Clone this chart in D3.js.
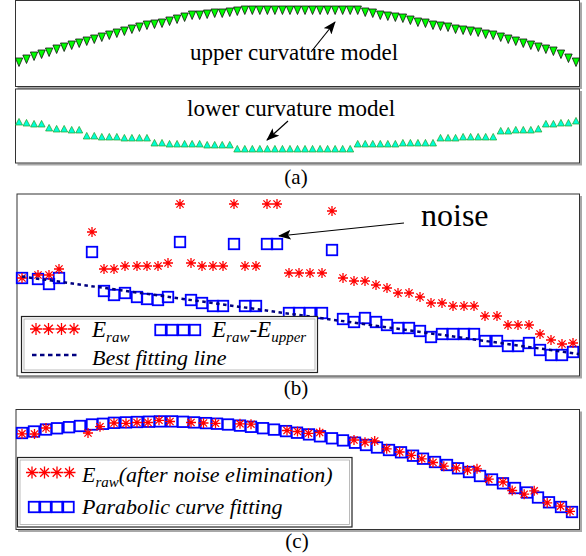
<!DOCTYPE html>
<html>
<head>
<meta charset="utf-8">
<script src="https://cdn.jsdelivr.net/npm/d3@7"></script>
<style>
  body { margin: 0; background: #fff; }
  svg { display: block; }
  text { font-family: "Liberation Serif", "Times New Roman", serif; fill: #000; }
</style>
</head>
<body>
<div id="chart"></div>
<script>
// (a) curvature models, one value per sample column
var upperModel = [25, 28, 31, 33, 35, 38, 40, 42, 44, 46, 48, 50, 52, 54, 56, 58, 60, 62, 63, 64,
                  66, 68, 70, 72, 72, 73, 74, 74, 75, 76,
                  77, 77, 77, 77, 77, 77, 77, 77, 77, 77, 77, 77, 77, 77, 77, 77,
                  75, 74, 72, 71, 70, 69, 67, 65, 64, 62, 61, 60, 58, 57, 56, 55, 53, 52, 50, 48,
                  46, 44, 42, 40, 38, 36, 33, 29, 25];
var lowerModel = [41, 40, 39, 39, 35, 34, 34, 33, 33, 27, 27, 26, 26, 26, 25, 25, 25, 25,
                  20, 20, 19, 19, 19, 19, 19, 18, 18, 18, 18,
                  14, 14, 14, 14, 14, 14, 14, 14, 14, 14, 14, 14, 14, 14, 14, 14,
                  19, 19, 19, 19, 19, 19, 20, 20, 20, 20, 20,
                  25, 25, 25, 26, 26, 26, 26, 26, 32, 32, 33, 33, 33, 34, 39, 39, 40, 40, 42];

// (b) raw values and raw minus upper model
var posB = [6, 22, 33, 43, 76, 88, 98, 109, 121, 131, 142, 152, 164, 175, 186, 197, 207, 218, 229, 240,
            251, 261, 273, 283, 294, 306, 316, 327, 338, 349, 360, 371, 382, 393, 404, 415, 426, 437, 448, 458,
            469, 481, 492, 502, 513, 524, 535, 546, 557];
var rawB = [98, 101, 101, 107, 144, 107, 107, 110, 110, 110, 110, 113, 172, 113, 110, 110, 110, 172, 110, 110,
            172, 172, 103, 103, 103, 103, 165, 98, 95, 95, 91, 88, 83, 83, 79, 73, 73, 70, 70, 70,
            60, 60, 51, 51, 51, 42, 36, 32, 33];
var diffB = [98, 97, 92, 98, 124, 85, 81, 83, 79, 77, 76, 79, 134, 76, 73, 70, 70, 132, 70, 70,
             132, 132, 63, 63, 63, 63, 126, 57, 54, 58, 54, 51, 48, 48, 45, 39, 42, 42, 42, 42,
             35, 35, 30, 30, 33, 26, 21, 21, 24];
var fitLineX = [6, 563];
var fitLineY = [99.5, 22];

// (c) parabolic fit and raw values after noise elimination
var posFit = [6, 18, 30, 41, 53, 64, 76, 87, 98, 110, 121, 133, 144, 156, 167, 178, 190, 201, 212, 224,
              235, 247, 258, 270, 281, 293, 304, 316, 327, 339, 350, 361, 373, 385, 397, 407, 419, 431, 442, 453,
              464, 476, 487, 499, 511, 522, 533, 545, 556];
var fitC = [96, 97.5, 99.5, 100.7, 101.8, 103, 104.5, 105.2, 106.2, 106.6, 107, 107.3, 107.6, 107.6, 107.2, 106.6,
            105.9, 105.3, 104.5, 103.4, 102.2, 100.8, 99.4, 97.9, 96.3, 94.6, 92.7, 90.7, 88.6, 86.3, 84, 81.5,
            79, 76.7, 73.3, 70.3, 67, 64, 60.7, 57, 53, 49.5, 45.7, 41, 36.5, 31.5, 26.7, 22, 17];
var posRawC = [6, 18.5, 30, 72, 84, 98, 110, 121, 132, 143, 154, 175, 187.5, 199.5, 224, 235, 271, 281.5, 292.5, 303.7,
               338, 349, 358.7, 370.7, 383.7, 395.3, 405.8, 417, 427.8, 440.3, 451.5, 461, 472.8, 487, 496.2, 508.2,
               518.2, 531.2, 544.5, 554];
var rawC = [95.2, 95, 101, 96, 102.3, 106, 105.7, 106.5, 106.5, 108.7, 107.5, 106.5, 106, 105.7, 105.2, 104.8,
            98.5, 97.5, 95.7, 96.5, 89, 86.8, 88, 80.2, 77, 73.7, 70.2, 66.5, 62.8, 61, 59, 60.2, 49.8, 47,
            38.5, 34.8, 38.2, 26.2, 22.8, 17.7];

var w = 586, h = 556;
var svg = d3.select("#chart").append("svg").attr("width", w).attr("height", h);

svg.append("defs").append("marker")
    .attr("id", "head")
    .attr("viewBox", "0 0 13 10")
    .attr("refX", 12).attr("refY", 5)
    .attr("markerWidth", 13).attr("markerHeight", 10)
    .attr("markerUnits", "userSpaceOnUse")
    .attr("orient", "auto")
    .append("path").attr("d", "M0,0L13,5L0,10L3,5Z").attr("fill", "#000");

function frame(x0, y0, x1, y1) {
    svg.append("path")
        .attr("d", "M" + (x0 + 2) + "," + (y1 + 1.5) + "H" + (x1 + 1.5) + "V" + (y0 + 2))
        .attr("fill", "none").attr("stroke", "#a8a8a8").attr("stroke-width", 2);
    svg.append("rect")
        .attr("x", x0).attr("y", y0).attr("width", x1 - x0).attr("height", y1 - y0)
        .attr("fill", "#fff").attr("stroke", "#333").attr("stroke-width", 1);
}

function legendBox(x0, y0, x1, y1) {
    svg.append("rect")
        .attr("x", x0).attr("y", y0).attr("width", x1 - x0).attr("height", y1 - y0)
        .attr("fill", "#fff").attr("stroke", "#222").attr("stroke-width", 1.2);
    svg.append("rect")
        .attr("x", x0 + 2.5).attr("y", y0 + 2.5).attr("width", x1 - x0 - 5).attr("height", y1 - y0 - 5)
        .attr("fill", "none").attr("stroke", "#aaa").attr("stroke-width", 0.8);
}

function star(r) {
    var d = r * 0.72;
    return "M" + (-r) + ",0H" + r + "M0," + (-r) + "V" + r +
           "M" + (-d) + "," + (-d) + "L" + d + "," + d + "M" + (-d) + "," + d + "L" + d + "," + (-d);
}

function stars(g, xs, ys, r) {
    g.selectAll(null).data(xs).enter().append("path")
        .attr("transform", function(d, i) { return "translate(" + d + "," + ys[i] + ")"; })
        .attr("d", star(r))
        .attr("fill", "none").attr("stroke", "#ff0000").attr("stroke-width", 1.3);
}

function squares(g, xs, ys, s) {
    g.selectAll(null).data(xs).enter().append("rect")
        .attr("x", function(d) { return d - s / 2; })
        .attr("y", function(d, i) { return ys[i] - s / 2; })
        .attr("width", s).attr("height", s)
        .attr("fill", "none").attr("stroke", "#0000ff").attr("stroke-width", 1.8);
}

function arrow(x1, y1, x2, y2) {
    svg.append("line")
        .attr("x1", x1).attr("y1", y1).attr("x2", x2).attr("y2", y2)
        .attr("stroke", "#000").attr("stroke-width", 1.2)
        .attr("marker-end", "url(#head)");
}

// ---------- (a) ----------
frame(15.5, 0.5, 579.5, 86.5);
frame(15.5, 89, 579.5, 163);

var xA = d3.scaleLinear().domain([0, 74]).range([19, 576]);
var yUp = d3.scaleLinear().domain([0, 87]).range([87, 0]);
var yLow = d3.scaleLinear().domain([0, 74]).range([163, 89]);

svg.append("g").selectAll("path").data(upperModel).enter().append("path")
    .attr("transform", function(d, i) { return "translate(" + xA(i) + "," + yUp(d) + ")"; })
    .attr("d", "M-3.7,-4L3.7,-4L0,4.5Z")
    .attr("fill", "#00ff00").attr("stroke", "#111").attr("stroke-width", 0.8);

svg.append("g").selectAll("path").data(lowerModel).enter().append("path")
    .attr("transform", function(d, i) { return "translate(" + xA(i) + "," + yLow(d) + ")"; })
    .attr("d", "M-3.5,3L3.5,3L0,-3.6Z")
    .attr("fill", "#00ffd8").attr("stroke", "#22a022").attr("stroke-width", 0.7);

svg.append("text").attr("x", 190).attr("y", 60).attr("font-size", 23).text("upper curvature model");
arrow(311, 52, 335, 22);
svg.append("text").attr("x", 187).attr("y", 116).attr("font-size", 23).text("lower curvature model");
arrow(288, 121, 267, 140);
svg.append("text").attr("x", 296).attr("y", 184).attr("font-size", 21)
    .attr("text-anchor", "middle").text("(a)");

// ---------- (b) ----------
frame(17, 194, 579.5, 376);
var xB = d3.scaleLinear().domain([0, 563]).range([16, 579]);
var yB = d3.scaleLinear().domain([0, 182]).range([376, 194]);

var gB = svg.append("g");
var bx = posB.map(function(d) { return xB(d); });

svg.append("line")
    .attr("x1", xB(fitLineX[0])).attr("y1", yB(fitLineY[0]))
    .attr("x2", xB(fitLineX[1])).attr("y2", yB(fitLineY[1]))
    .attr("stroke", "#000080").attr("stroke-width", 2.5).attr("stroke-dasharray", "3.5,3.5");

squares(gB, bx, diffB.map(function(d) { return yB(d); }), 10.5);
stars(gB, bx, rawB.map(function(d) { return yB(d); }), 5);

svg.append("text").attr("x", 421).attr("y", 226).attr("font-size", 32).text("noise");
arrow(xB(388), yB(153), xB(263), yB(140));

legendBox(21.5, 316.5, 317.5, 372.5);
var gL = svg.append("g");
stars(gL, [36, 48.5, 61.5, 74], [329, 329, 329, 329], 6);
squares(gL, [160.5, 172, 183.5, 195], [330, 330, 330, 330], 10.5);
var t1 = svg.append("text").attr("x", 92).attr("y", 337).attr("font-size", 23).attr("font-style", "italic");
t1.append("tspan").text("E");
t1.append("tspan").attr("font-size", 15).attr("dy", 5).text("raw");
var t2 = svg.append("text").attr("x", 212).attr("y", 337).attr("font-size", 23).attr("font-style", "italic");
t2.append("tspan").text("E");
t2.append("tspan").attr("font-size", 15).attr("dy", 5).text("raw");
t2.append("tspan").attr("dy", -5).text("-E");
t2.append("tspan").attr("font-size", 15).attr("dy", 5).text("upper");
svg.append("line").attr("x1", 32).attr("y1", 355).attr("x2", 79).attr("y2", 355)
    .attr("stroke", "#000080").attr("stroke-width", 2.5).attr("stroke-dasharray", "4.5,3.5");
svg.append("text").attr("x", 92).attr("y", 365).attr("font-size", 22).attr("font-style", "italic")
    .text("Best fitting line");

svg.append("text").attr("x", 296).attr("y", 395).attr("font-size", 21)
    .attr("text-anchor", "middle").text("(b)");

// ---------- (c) ----------
frame(16, 409.5, 579.5, 529.5);
var yC = d3.scaleLinear().domain([0, 120]).range([529, 409]);
var gC = svg.append("g");
squares(gC, posFit.map(function(d) { return xB(d); }), fitC.map(function(d) { return yC(d); }), 10.5);
stars(gC, posRawC.map(function(d) { return xB(d); }), rawC.map(function(d) { return yC(d); }), 5);

legendBox(17.5, 457.5, 352, 527);
var gL2 = svg.append("g");
stars(gL2, [32, 44.5, 57, 69.5], [472.5, 472.5, 472.5, 472.5], 6);
squares(gL2, [34, 45.5, 57, 68.5], [507, 507, 507, 507], 10.5);
var t3 = svg.append("text").attr("x", 82).attr("y", 481.5).attr("font-size", 22).attr("font-style", "italic");
t3.append("tspan").text("E");
t3.append("tspan").attr("font-size", 15).attr("dy", 5).text("raw");
t3.append("tspan").attr("dy", -5).text("(after noise elimination)");
svg.append("text").attr("x", 82).attr("y", 513.5).attr("font-size", 22).attr("font-style", "italic")
    .text("Parabolic curve fitting");

svg.append("text").attr("x", 297).attr("y", 548).attr("font-size", 21)
    .attr("text-anchor", "middle").text("(c)");
</script>
</body>
</html>
